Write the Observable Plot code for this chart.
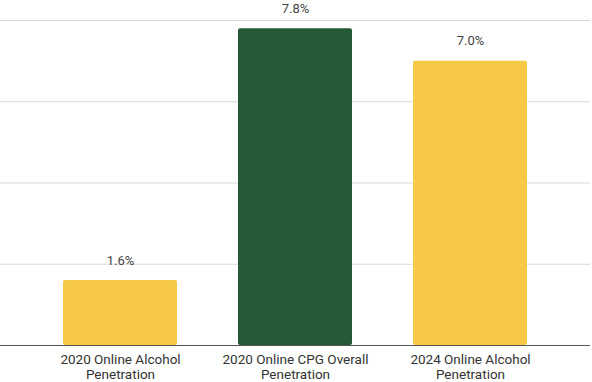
<!DOCTYPE html>
<html>
<head>
<meta charset="utf-8">
<script src="https://cdn.jsdelivr.net/npm/d3@7"></script>
<script src="https://cdn.jsdelivr.net/npm/@observablehq/plot@0.6"></script>
<style>
  html, body { margin: 0; padding: 0; background: #fff; }
  #chart svg { display: block; }
</style>
</head>
<body>
<div id="chart"></div>
<script>
const categories = [
  "2020 Online Alcohol Penetration",
  "2020 Online CPG Overall Penetration",
  "2024 Online Alcohol Penetration"
];
const tickLabels = [
  "2020 Online Alcohol\nPenetration",
  "2020 Online CPG Overall\nPenetration",
  "2024 Online Alcohol\nPenetration"
];
const values = [1.6, 7.8, 7.0];
const barColors = ["#F7C948", "#245A37", "#F7C948"];
const yTicks = [0, 2, 4, 6, 8];

const data = categories.map((c, i) => ({category: c, value: values[i], color: barColors[i]}));
const labelOf = new Map(categories.map((c, i) => [c, tickLabels[i]]));

const chart = Plot.plot({
  width: 592,
  height: 382,
  marginTop: 20,
  marginBottom: 37,
  marginLeft: 0,
  marginRight: 2,
  style: {fontFamily: "Roboto, 'Liberation Sans', Arial, sans-serif", background: "#fff"},
  x: {domain: categories, paddingInner: 0.35, paddingOuter: 0.36, label: null},
  y: {domain: [0, 8], label: null},
  marks: [
    Plot.gridY(yTicks, {stroke: "#d9d9d9", strokeOpacity: 1, strokeWidth: 1}),
    Plot.barY(data, {x: "category", y: "value", fill: "color", rx: 2}),
    Plot.ruleY([0], {stroke: "#555", strokeWidth: 1.2}),
    Plot.text(data, {x: "category", y: "value", text: d => d.value.toFixed(1) + "%", dy: -20, fill: "#444", fontSize: 13}),
    Plot.axisX({tickSize: 0, tickPadding: 8, lineAnchor: "top", fontSize: 13.5, lineHeight: 1.1, fill: "#333", tickFormat: d => labelOf.get(d), label: null}),
    Plot.axisY({ticks: [], label: null, tickSize: 0})
  ]
});
document.getElementById("chart").appendChild(chart);
</script>
</body>
</html>
